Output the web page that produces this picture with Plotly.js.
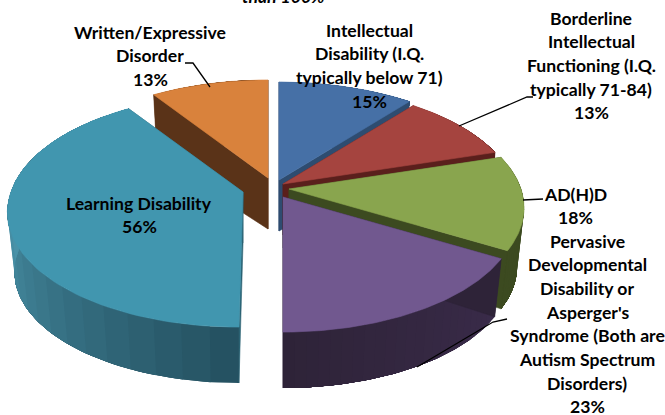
<!DOCTYPE html>
<html><head><meta charset="utf-8">
<script src="https://cdn.plot.ly/plotly-3.0.1.min.js"></script>
<style>html,body{margin:0;padding:0;background:#fff}#c{width:665px;height:415px}</style>
</head><body><div id="c"></div>
<script>
// ---- data ----
const categories = ["Intellectual Disability (I.Q. typically below 71)",
  "Borderline Intellectual Functioning (I.Q. typically 71-84)", "AD(H)D",
  "Pervasive Developmental Disability or Asperger's Syndrome (Both are Autism Spectrum Disorders)",
  "Learning Disability", "Written/Expressive Disorder"];
const values = [15, 13, 18, 23, 56, 13];
const labelLines = [
  ["Intellectual", "Disability (I.Q.", "typically below 71)", "15%"],
  ["Borderline", "Intellectual", "Functioning (I.Q.", "typically 71-84)", "13%"],
  ["AD(H)D", "18%"],
  ["Pervasive", "Developmental", "Disability or", "Asperger's", "Syndrome (Both are", "Autism Spectrum", "Disorders)", "23%"],
  ["Learning Disability", "56%"],
  ["Written/Expressive", "Disorder", "13%"]
];
const clippedNote = "than 100%";

// ---- styling and layout of the drawn pie ----
const topColors = ["#4670a6", "#a5443f", "#89a54e", "#71588f", "#4196af", "#d9823c"];
const wallColors = ["#2e4c70", "#5a1f1c", "#3c4a20", "#2e2338", "#2b6374", "#5a3318"];
const rimFrom = ["#3a5f8c", "#6d2a27", "#3c4a20", "#3a2b4a", "#4a94ab", "#7a4a20"];
const rimTo = ["#2e4c70", "#5a1f1c", "#3c4a20", "#2e2338", "#24505f", "#5a3318"];
const apexX = [279, 283, 289, 283, 243, 268];
const apexY = [180, 184, 189, 197, 192, 178];
const labelCX = [369, 591, 575, 587, 139, 150];
const labelY = [30, 18, 194, 241, 203, 32];
const A = 232, B = 113.6, K = 0.159;
const SEGMENTS = 24, SUB = 4;

function rad(d) { return d * Math.PI / 180; }
function rimPoint(i, deg, low) {
  const t = rad(deg), s = Math.sin(t), c = Math.cos(t);
  const w = 1 + K * c;
  const scale = low ? 0.97 : 1;
  const lean = c < 0 ? (apexX[i] - 283) * 0.1 * (-c) : 0;
  return [apexX[i] + scale * A * s / w + lean,
          apexY[i] - scale * B * c / w + (low ? 60 : 0)];
}
function mix(a, b, f) {
  const p = h => [1, 3, 5].map(k => parseInt(h.substr(k, 2), 16));
  const P = p(a), Q = p(b);
  return "rgb(" + P.map((v, k) => Math.round(v + (Q[k] - v) * f)).join(",") + ")";
}
function poly(pts, color, lw) {
  const xs = pts.map(p => p[0]).concat([pts[0][0]]);
  const ys = pts.map(p => p[1]).concat([pts[0][1]]);
  return { type: "scatter", mode: "lines", x: xs, y: ys, fill: "toself", fillcolor: color,
    line: { color: color, width: lw }, hoverinfo: "skip", showlegend: false };
}
const total = values.reduce((a, b) => a + b, 0);
const startAngle = [], endAngle = [];
values.reduce((acc, v, i) => { startAngle[i] = acc / total * 360; endAngle[i] = (acc + v) / total * 360; return acc + v; }, 0);

function sliceTraces(i) {
  const a0 = startAngle[i], a1 = endAngle[i], out = [];
  const ax = apexX[i], ay = apexY[i], wall = 51;
  // outer rim: each band runs on to the slice's end and the next band paints over it, so no seams
  for (let k = 0; k < SEGMENTS; k++) {
    const up = [], down = [];
    for (let j = k * SUB; j <= SEGMENTS * SUB; j++) {
      const b = a0 + (a1 - a0) * j / (SEGMENTS * SUB);
      up.push(rimPoint(i, b, false));
      down.unshift(rimPoint(i, b, true));
    }
    const f = i === 4 ? 1 - (k + 0.5) / SEGMENTS * 1.6 : (k + 0.5) / SEGMENTS;
    out.push(poly(up.concat(down), mix(rimFrom[i], rimTo[i], Math.max(0, Math.min(1, f))), 0));
  }
  [a0, a1].forEach(a => {
    out.push(poly([[ax, ay], rimPoint(i, a, false), rimPoint(i, a, true), [ax, ay + wall]], wallColors[i], 0.6));
  });
  const top = [[ax, ay]];
  for (let k = 0; k <= 80; k++) top.push(rimPoint(i, a0 + (a1 - a0) * k / 80, false));
  out.push(poly(top, topColors[i], 0.6));
  return out;
}
const paintOrder = [5, 0, 1, 2, 4, 3];
const traces = [];
paintOrder.forEach(i => traces.push(...sliceTraces(i)));

const LINE_GAP = 23.7;
const FONT = { family: "Lato, 'Open Sans', sans-serif", size: 17.6, color: "#000" };
const annotations = [];
labelLines.forEach((lines, i) => lines.forEach((t, k) => {
  annotations.push({ xref: "x", yref: "y", x: labelCX[i], y: labelY[i] + k * LINE_GAP, text: "<b>" + t + "</b>",
    showarrow: false, xanchor: "center", yanchor: "middle", font: FONT });
}));
annotations.push({ xref: "x", yref: "y", x: 283, y: 2, yshift: 6, text: "<b><i>" + clippedNote + "</i></b>",
  showarrow: false, xanchor: "center", yanchor: "middle", font: FONT });

const leader = (xs, ys) => ({ type: "scatter", mode: "lines", x: xs, y: ys, line: { color: "#000", width: 1.3 }, hoverinfo: "skip", showlegend: false });
traces.push(leader([185, 193, 210], [63, 63, 87]));
traces.push(leader([459, 527, 533], [126, 97, 97]));
traces.push(leader([523, 543], [200, 199]));
traces.push(leader([417, 493, 507], [367, 322, 319]));

Plotly.newPlot("c", traces, {
  width: 665, height: 415, margin: { l: 0, r: 0, t: 0, b: 0 },
  paper_bgcolor: "#fff", plot_bgcolor: "#fff", showlegend: false,
  xaxis: { range: [0, 665], visible: false, fixedrange: true },
  yaxis: { range: [415, 0], visible: false, fixedrange: true },
  annotations: annotations
}, { displayModeBar: false, staticPlot: true });
</script></body></html>
